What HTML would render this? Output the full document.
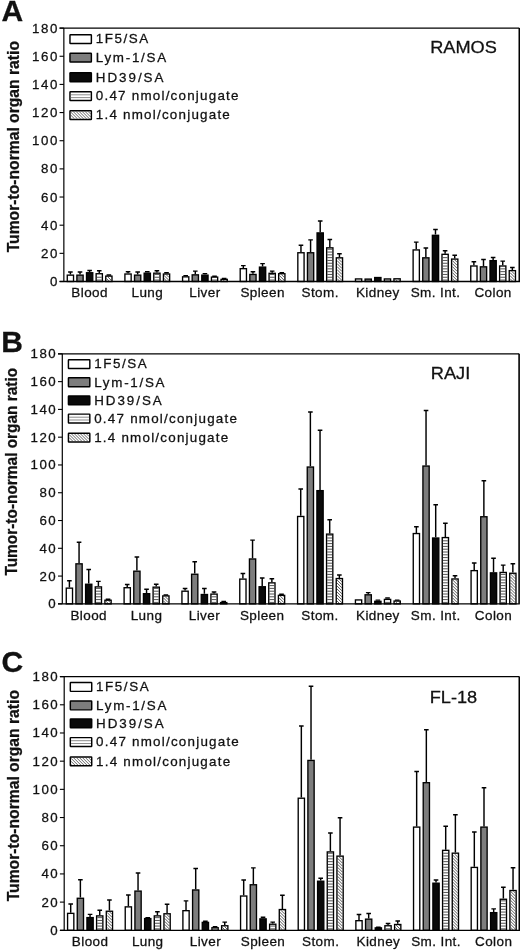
<!DOCTYPE html>
<html lang="en"><head><meta charset="utf-8"><title>Tumor-to-normal organ ratio</title>
<style>html,body{margin:0;padding:0;background:#fff}body{width:520px;height:950px;overflow:hidden}svg{display:block}text{font-family:"Liberation Sans", Arial, Helvetica, sans-serif;fill:#111;stroke:#111;stroke-width:0.28px}</style>
</head><body>
<svg width="520" height="950" viewBox="0 0 520 950">
<rect width="520" height="950" fill="#fff"/>
<g id="panel-A">
<text x="1.5" y="21.3" font-size="30" font-weight="bold">A</text>
<text transform="translate(19.1 146.7) rotate(-90)" text-anchor="middle" font-size="16" font-weight="bold" textLength="211.3" lengthAdjust="spacingAndGlyphs">Tumor-to-normal organ ratio</text>
<line x1="59.55" y1="281.50" x2="63.85" y2="281.50" stroke="#000" stroke-width="1.1"/>
<text x="58.8" y="285.9" text-anchor="end" font-size="13.3" letter-spacing="1.5">0</text>
<line x1="59.55" y1="253.34" x2="63.85" y2="253.34" stroke="#000" stroke-width="1.1"/>
<text x="58.8" y="257.8" text-anchor="end" font-size="13.3" letter-spacing="1.5">20</text>
<line x1="59.55" y1="225.19" x2="63.85" y2="225.19" stroke="#000" stroke-width="1.1"/>
<text x="58.8" y="229.6" text-anchor="end" font-size="13.3" letter-spacing="1.5">40</text>
<line x1="59.55" y1="197.03" x2="63.85" y2="197.03" stroke="#000" stroke-width="1.1"/>
<text x="58.8" y="201.5" text-anchor="end" font-size="13.3" letter-spacing="1.5">60</text>
<line x1="59.55" y1="168.88" x2="63.85" y2="168.88" stroke="#000" stroke-width="1.1"/>
<text x="58.8" y="173.3" text-anchor="end" font-size="13.3" letter-spacing="1.5">80</text>
<line x1="59.55" y1="140.72" x2="63.85" y2="140.72" stroke="#000" stroke-width="1.1"/>
<text x="58.8" y="145.2" text-anchor="end" font-size="13.3" letter-spacing="1.5">100</text>
<line x1="59.55" y1="112.57" x2="63.85" y2="112.57" stroke="#000" stroke-width="1.1"/>
<text x="58.8" y="117.0" text-anchor="end" font-size="13.3" letter-spacing="1.5">120</text>
<line x1="59.55" y1="84.41" x2="63.85" y2="84.41" stroke="#000" stroke-width="1.1"/>
<text x="58.8" y="88.9" text-anchor="end" font-size="13.3" letter-spacing="1.5">140</text>
<line x1="59.55" y1="56.26" x2="63.85" y2="56.26" stroke="#000" stroke-width="1.1"/>
<text x="58.8" y="60.7" text-anchor="end" font-size="13.3" letter-spacing="1.5">160</text>
<line x1="59.55" y1="28.10" x2="63.85" y2="28.10" stroke="#000" stroke-width="1.1"/>
<text x="58.8" y="32.5" text-anchor="end" font-size="13.3" letter-spacing="1.5">180</text>
<path d="M70.40 274.46V271.79M68.10 272.09H72.70" stroke="#000" stroke-width="1.45" fill="none"/>
<rect x="67.27" y="275.14" width="6.25" height="6.36" fill="#fff" stroke="#000" stroke-width="1.35"/>
<path d="M80.02 274.46V271.79M77.72 272.09H82.32" stroke="#000" stroke-width="1.45" fill="none"/>
<rect x="76.89" y="275.14" width="6.25" height="6.36" fill="#7d7d7d" stroke="#000" stroke-width="1.35"/>
<path d="M89.64 272.07V270.10M87.34 270.40H91.94" stroke="#000" stroke-width="1.45" fill="none"/>
<rect x="86.51" y="272.74" width="6.25" height="8.76" fill="#0a0a0a" stroke="#000" stroke-width="1.35"/>
<path d="M99.26 273.05V270.52M96.96 270.82H101.56" stroke="#000" stroke-width="1.45" fill="none"/>
<rect x="96.13" y="273.73" width="6.25" height="7.77" fill="#fff" stroke="#000" stroke-width="1.35"/>
<path d="M96.81 280.05H101.71M96.81 277.25H101.71" stroke="#333" stroke-width="0.85" fill="none"/>
<path d="M108.88 275.45V274.60M106.58 274.90H111.18" stroke="#000" stroke-width="1.45" fill="none"/>
<rect x="105.75" y="276.12" width="6.25" height="5.38" fill="#fff" stroke="#000" stroke-width="1.35"/>
<path d="M110.73 276.80L111.33 277.40M107.73 276.80L111.33 280.40M106.43 278.50L108.83 280.90" stroke="#222" stroke-width="0.75" fill="none"/>
<text x="89.6" y="297.1" text-anchor="middle" font-size="13.5" letter-spacing="0.4">Blood</text>
<path d="M128.04 273.33V271.36M125.74 271.66H130.34" stroke="#000" stroke-width="1.45" fill="none"/>
<rect x="124.91" y="274.01" width="6.25" height="7.49" fill="#fff" stroke="#000" stroke-width="1.35"/>
<path d="M137.66 274.46V271.79M135.36 272.09H139.96" stroke="#000" stroke-width="1.45" fill="none"/>
<rect x="134.53" y="275.14" width="6.25" height="6.36" fill="#7d7d7d" stroke="#000" stroke-width="1.35"/>
<path d="M147.28 272.49V271.36M144.98 271.66H149.58" stroke="#000" stroke-width="1.45" fill="none"/>
<rect x="144.16" y="273.17" width="6.25" height="8.33" fill="#0a0a0a" stroke="#000" stroke-width="1.35"/>
<path d="M156.90 272.49V270.52M154.60 270.82H159.20" stroke="#000" stroke-width="1.45" fill="none"/>
<rect x="153.78" y="273.17" width="6.25" height="8.33" fill="#fff" stroke="#000" stroke-width="1.35"/>
<path d="M154.45 280.05H159.35M154.45 277.25H159.35M154.45 274.45H159.35" stroke="#333" stroke-width="0.85" fill="none"/>
<path d="M166.52 273.33V272.49M164.22 272.79H168.82" stroke="#000" stroke-width="1.45" fill="none"/>
<rect x="163.40" y="274.01" width="6.25" height="7.49" fill="#fff" stroke="#000" stroke-width="1.35"/>
<path d="M166.25 274.68L168.97 277.40M164.07 275.50L168.97 280.40M164.07 278.50L166.47 280.90" stroke="#222" stroke-width="0.75" fill="none"/>
<text x="147.3" y="297.1" text-anchor="middle" font-size="13.5" letter-spacing="0.4">Lung</text>
<path d="M185.68 276.15V275.31M183.38 275.61H187.98" stroke="#000" stroke-width="1.45" fill="none"/>
<rect x="182.56" y="276.83" width="6.25" height="4.67" fill="#fff" stroke="#000" stroke-width="1.35"/>
<path d="M195.30 274.18V270.80M193.00 271.10H197.60" stroke="#000" stroke-width="1.45" fill="none"/>
<rect x="192.18" y="274.85" width="6.25" height="6.65" fill="#7d7d7d" stroke="#000" stroke-width="1.35"/>
<path d="M204.92 274.46V273.33M202.62 273.63H207.22" stroke="#000" stroke-width="1.45" fill="none"/>
<rect x="201.80" y="275.14" width="6.25" height="6.36" fill="#0a0a0a" stroke="#000" stroke-width="1.35"/>
<path d="M214.54 276.43V276.01M212.24 276.31H216.84" stroke="#000" stroke-width="1.45" fill="none"/>
<rect x="211.42" y="277.11" width="6.25" height="4.39" fill="#fff" stroke="#000" stroke-width="1.35"/>
<path d="M212.09 280.05H216.99" stroke="#333" stroke-width="0.85" fill="none"/>
<path d="M224.16 278.68V278.26M221.86 278.56H226.46" stroke="#000" stroke-width="1.45" fill="none"/>
<rect x="221.03" y="279.36" width="6.25" height="2.14" fill="#fff" stroke="#000" stroke-width="1.35"/>
<path d="M226.24 280.03L226.61 280.40M223.24 280.03L224.11 280.90" stroke="#222" stroke-width="0.75" fill="none"/>
<text x="204.9" y="297.1" text-anchor="middle" font-size="13.5" letter-spacing="0.4">Liver</text>
<path d="M243.32 267.99V265.31M241.02 265.61H245.62" stroke="#000" stroke-width="1.45" fill="none"/>
<rect x="240.20" y="268.66" width="6.25" height="12.84" fill="#fff" stroke="#000" stroke-width="1.35"/>
<path d="M252.94 273.76V271.50M250.64 271.80H255.24" stroke="#000" stroke-width="1.45" fill="none"/>
<rect x="249.82" y="274.43" width="6.25" height="7.07" fill="#7d7d7d" stroke="#000" stroke-width="1.35"/>
<path d="M262.56 266.44V263.34M260.26 263.64H264.86" stroke="#000" stroke-width="1.45" fill="none"/>
<rect x="259.44" y="267.11" width="6.25" height="14.39" fill="#0a0a0a" stroke="#000" stroke-width="1.35"/>
<path d="M272.18 272.63V270.80M269.88 271.10H274.48" stroke="#000" stroke-width="1.45" fill="none"/>
<rect x="269.06" y="273.31" width="6.25" height="8.19" fill="#fff" stroke="#000" stroke-width="1.35"/>
<path d="M269.73 280.05H274.63M269.73 277.25H274.63M269.73 274.45H274.63" stroke="#333" stroke-width="0.85" fill="none"/>
<path d="M281.80 273.05V272.35M279.50 272.65H284.10" stroke="#000" stroke-width="1.45" fill="none"/>
<rect x="278.68" y="273.73" width="6.25" height="7.77" fill="#fff" stroke="#000" stroke-width="1.35"/>
<path d="M281.25 274.40L284.25 277.40M279.35 275.50L284.25 280.40M279.35 278.50L281.75 280.90" stroke="#222" stroke-width="0.75" fill="none"/>
<text x="262.6" y="297.1" text-anchor="middle" font-size="13.5" letter-spacing="0.4">Spleen</text>
<path d="M300.96 252.08V244.90M298.66 245.20H303.26" stroke="#000" stroke-width="1.45" fill="none"/>
<rect x="297.83" y="252.75" width="6.25" height="28.75" fill="#fff" stroke="#000" stroke-width="1.35"/>
<path d="M310.58 252.08V239.55M308.28 239.85H312.88" stroke="#000" stroke-width="1.45" fill="none"/>
<rect x="307.45" y="252.75" width="6.25" height="28.75" fill="#7d7d7d" stroke="#000" stroke-width="1.35"/>
<path d="M320.20 232.23V220.68M317.90 220.98H322.50" stroke="#000" stroke-width="1.45" fill="none"/>
<rect x="317.07" y="232.90" width="6.25" height="48.60" fill="#0a0a0a" stroke="#000" stroke-width="1.35"/>
<path d="M329.82 247.15V239.27M327.52 239.57H332.12" stroke="#000" stroke-width="1.45" fill="none"/>
<rect x="326.69" y="247.83" width="6.25" height="33.67" fill="#fff" stroke="#000" stroke-width="1.35"/>
<path d="M327.37 280.05H332.27M327.37 277.25H332.27M327.37 274.45H332.27M327.37 271.65H332.27M327.37 268.85H332.27M327.37 266.05H332.27M327.37 263.25H332.27M327.37 260.45H332.27M327.37 257.65H332.27M327.37 254.85H332.27M327.37 252.05H332.27M327.37 249.25H332.27" stroke="#333" stroke-width="0.85" fill="none"/>
<path d="M339.44 257.15V253.49M337.14 253.79H341.74" stroke="#000" stroke-width="1.45" fill="none"/>
<rect x="336.31" y="257.82" width="6.25" height="23.68" fill="#fff" stroke="#000" stroke-width="1.35"/>
<path d="M340.99 258.50L341.89 259.40M337.99 258.50L341.89 262.40M336.99 260.50L341.89 265.40M336.99 263.50L341.89 268.40M336.99 266.50L341.89 271.40M336.99 269.50L341.89 274.40M336.99 272.50L341.89 277.40M336.99 275.50L341.89 280.40M336.99 278.50L339.39 280.90" stroke="#222" stroke-width="0.75" fill="none"/>
<text x="320.2" y="297.1" text-anchor="middle" font-size="13.5" letter-spacing="0.4">Stom.</text>
<rect x="355.47" y="278.94" width="6.25" height="2.56" fill="#fff" stroke="#000" stroke-width="1.35"/>
<rect x="365.09" y="279.08" width="6.25" height="2.42" fill="#7d7d7d" stroke="#000" stroke-width="1.35"/>
<rect x="374.71" y="277.53" width="6.25" height="3.97" fill="#0a0a0a" stroke="#000" stroke-width="1.35"/>
<rect x="384.33" y="278.94" width="6.25" height="2.56" fill="#fff" stroke="#000" stroke-width="1.35"/>
<path d="M385.01 280.05H389.91" stroke="#333" stroke-width="0.85" fill="none"/>
<rect x="393.95" y="278.80" width="6.25" height="2.70" fill="#fff" stroke="#000" stroke-width="1.35"/>
<path d="M398.60 279.47L399.53 280.40M395.60 279.47L397.03 280.90" stroke="#222" stroke-width="0.75" fill="none"/>
<text x="377.8" y="297.1" text-anchor="middle" font-size="13.5" letter-spacing="0.4">Kidney</text>
<path d="M416.24 249.26V241.80M413.94 242.10H418.54" stroke="#000" stroke-width="1.45" fill="none"/>
<rect x="413.12" y="249.94" width="6.25" height="31.56" fill="#fff" stroke="#000" stroke-width="1.35"/>
<path d="M425.86 257.15V247.71M423.56 248.01H428.16" stroke="#000" stroke-width="1.45" fill="none"/>
<rect x="422.74" y="257.82" width="6.25" height="23.68" fill="#7d7d7d" stroke="#000" stroke-width="1.35"/>
<path d="M435.48 234.62V229.27M433.18 229.57H437.78" stroke="#000" stroke-width="1.45" fill="none"/>
<rect x="432.36" y="235.30" width="6.25" height="46.20" fill="#0a0a0a" stroke="#000" stroke-width="1.35"/>
<path d="M445.10 253.63V250.53M442.80 250.83H447.40" stroke="#000" stroke-width="1.45" fill="none"/>
<rect x="441.98" y="254.30" width="6.25" height="27.20" fill="#fff" stroke="#000" stroke-width="1.35"/>
<path d="M442.65 280.05H447.55M442.65 277.25H447.55M442.65 274.45H447.55M442.65 271.65H447.55M442.65 268.85H447.55M442.65 266.05H447.55M442.65 263.25H447.55M442.65 260.45H447.55M442.65 257.65H447.55" stroke="#333" stroke-width="0.85" fill="none"/>
<path d="M454.72 258.41V254.89M452.42 255.19H457.02" stroke="#000" stroke-width="1.45" fill="none"/>
<rect x="451.60" y="259.09" width="6.25" height="22.41" fill="#fff" stroke="#000" stroke-width="1.35"/>
<path d="M454.53 259.76L457.17 262.40M452.27 260.50L457.17 265.40M452.27 263.50L457.17 268.40M452.27 266.50L457.17 271.40M452.27 269.50L457.17 274.40M452.27 272.50L457.17 277.40M452.27 275.50L457.17 280.40M452.27 278.50L454.67 280.90" stroke="#222" stroke-width="0.75" fill="none"/>
<text x="435.5" y="297.1" text-anchor="middle" font-size="13.5" letter-spacing="0.4">Sm. Int.</text>
<path d="M473.88 265.31V261.51M471.58 261.81H476.18" stroke="#000" stroke-width="1.45" fill="none"/>
<rect x="470.76" y="265.99" width="6.25" height="15.51" fill="#fff" stroke="#000" stroke-width="1.35"/>
<path d="M483.50 266.16V259.26M481.20 259.56H485.80" stroke="#000" stroke-width="1.45" fill="none"/>
<rect x="480.38" y="266.83" width="6.25" height="14.67" fill="#7d7d7d" stroke="#000" stroke-width="1.35"/>
<path d="M493.12 259.96V257.15M490.82 257.45H495.42" stroke="#000" stroke-width="1.45" fill="none"/>
<rect x="490.00" y="260.64" width="6.25" height="20.86" fill="#0a0a0a" stroke="#000" stroke-width="1.35"/>
<path d="M502.74 265.31V260.81M500.44 261.11H505.04" stroke="#000" stroke-width="1.45" fill="none"/>
<rect x="499.62" y="265.99" width="6.25" height="15.51" fill="#fff" stroke="#000" stroke-width="1.35"/>
<path d="M500.29 280.05H505.19M500.29 277.25H505.19M500.29 274.45H505.19M500.29 271.65H505.19M500.29 268.85H505.19" stroke="#333" stroke-width="0.85" fill="none"/>
<path d="M512.36 269.96V267.28M510.06 267.58H514.66" stroke="#000" stroke-width="1.45" fill="none"/>
<rect x="509.24" y="270.63" width="6.25" height="10.87" fill="#fff" stroke="#000" stroke-width="1.35"/>
<path d="M511.72 271.31L514.81 274.40M509.91 272.50L514.81 277.40M509.91 275.50L514.81 280.40M509.91 278.50L512.31 280.90" stroke="#222" stroke-width="0.75" fill="none"/>
<text x="493.1" y="297.1" text-anchor="middle" font-size="13.5" letter-spacing="0.4">Colon</text>
<path d="M59.55 28.10H519.30" stroke="#000" stroke-width="1.1" fill="none"/>
<path d="M63.85 28.10V281.50" stroke="#000" stroke-width="1.2" fill="none"/>
<path d="M59.55 281.50H520.00" stroke="#000" stroke-width="1.3" fill="none"/>
<path d="M519.30 28.10V281.50" stroke="#000" stroke-width="1.6" fill="none"/>
<rect x="69.97" y="34.72" width="21.4" height="8.85" rx="0.5" fill="#fff" stroke="#000" stroke-width="1.45"/>
<text x="95.8" y="43.4" font-size="13.4" textLength="52.5" lengthAdjust="spacing">1F5/SA</text>
<rect x="69.97" y="53.22" width="21.4" height="8.85" rx="0.5" fill="#7d7d7d" stroke="#000" stroke-width="1.45"/>
<text x="95.8" y="61.9" font-size="13.4" textLength="70.3" lengthAdjust="spacing">Lym-1/SA</text>
<rect x="69.97" y="72.82" width="21.4" height="8.85" rx="0.5" fill="#0a0a0a" stroke="#000" stroke-width="1.45"/>
<text x="95.8" y="81.5" font-size="13.4" textLength="67.6" lengthAdjust="spacing">HD39/SA</text>
<rect x="69.97" y="91.72" width="21.4" height="8.85" rx="0.5" fill="#fff" stroke="#000" stroke-width="1.45"/>
<path d="M70.70 97.60H90.65M70.70 94.80H90.65" stroke="#777" stroke-width="0.85" fill="none"/>
<text x="95.8" y="100.4" font-size="13.4" textLength="142.7" lengthAdjust="spacing">0.47 nmol/conjugate</text>
<rect x="69.97" y="110.72" width="21.4" height="8.85" rx="0.5" fill="#fff" stroke="#000" stroke-width="1.45"/>
<path d="M88.10 111.45L90.65 114.00M85.10 111.45L90.65 117.00M82.10 111.45L89.50 118.85M79.10 111.45L86.50 118.85M76.10 111.45L83.50 118.85M73.10 111.45L80.50 118.85M70.70 112.05L77.50 118.85M70.70 115.05L74.50 118.85M70.70 118.05L71.50 118.85" stroke="#222" stroke-width="0.7" fill="none"/>
<text x="95.8" y="119.4" font-size="13.4" textLength="134.0" lengthAdjust="spacing">1.4 nmol/conjugate</text>
<text x="430.2" y="53.4" font-size="17" textLength="66.6" lengthAdjust="spacingAndGlyphs">RAMOS</text>
</g>
<g id="panel-B">
<text x="1.3" y="351.6" font-size="30" font-weight="bold">B</text>
<text transform="translate(16.9 471.7) rotate(-90)" text-anchor="middle" font-size="16" font-weight="bold" textLength="207.8" lengthAdjust="spacingAndGlyphs">Tumor-to-normal organ ratio</text>
<line x1="58.00" y1="603.85" x2="62.30" y2="603.85" stroke="#000" stroke-width="1.1"/>
<text x="57.2" y="608.3" text-anchor="end" font-size="13.3" letter-spacing="1.5">0</text>
<line x1="58.00" y1="576.07" x2="62.30" y2="576.07" stroke="#000" stroke-width="1.1"/>
<text x="57.2" y="580.5" text-anchor="end" font-size="13.3" letter-spacing="1.5">20</text>
<line x1="58.00" y1="548.29" x2="62.30" y2="548.29" stroke="#000" stroke-width="1.1"/>
<text x="57.2" y="552.7" text-anchor="end" font-size="13.3" letter-spacing="1.5">40</text>
<line x1="58.00" y1="520.52" x2="62.30" y2="520.52" stroke="#000" stroke-width="1.1"/>
<text x="57.2" y="525.0" text-anchor="end" font-size="13.3" letter-spacing="1.5">60</text>
<line x1="58.00" y1="492.74" x2="62.30" y2="492.74" stroke="#000" stroke-width="1.1"/>
<text x="57.2" y="497.2" text-anchor="end" font-size="13.3" letter-spacing="1.5">80</text>
<line x1="58.00" y1="464.96" x2="62.30" y2="464.96" stroke="#000" stroke-width="1.1"/>
<text x="57.2" y="469.4" text-anchor="end" font-size="13.3" letter-spacing="1.5">100</text>
<line x1="58.00" y1="437.18" x2="62.30" y2="437.18" stroke="#000" stroke-width="1.1"/>
<text x="57.2" y="441.6" text-anchor="end" font-size="13.3" letter-spacing="1.5">120</text>
<line x1="58.00" y1="409.41" x2="62.30" y2="409.41" stroke="#000" stroke-width="1.1"/>
<text x="57.2" y="413.9" text-anchor="end" font-size="13.3" letter-spacing="1.5">140</text>
<line x1="58.00" y1="381.63" x2="62.30" y2="381.63" stroke="#000" stroke-width="1.1"/>
<text x="57.2" y="386.1" text-anchor="end" font-size="13.3" letter-spacing="1.5">160</text>
<line x1="58.00" y1="353.85" x2="62.30" y2="353.85" stroke="#000" stroke-width="1.1"/>
<text x="57.2" y="358.3" text-anchor="end" font-size="13.3" letter-spacing="1.5">180</text>
<path d="M69.40 587.46V580.52M67.10 580.82H71.70" stroke="#000" stroke-width="1.45" fill="none"/>
<rect x="66.27" y="588.14" width="6.25" height="15.71" fill="#fff" stroke="#000" stroke-width="1.35"/>
<path d="M79.06 563.16V541.91M76.76 542.21H81.36" stroke="#000" stroke-width="1.45" fill="none"/>
<rect x="75.93" y="563.83" width="6.25" height="40.02" fill="#7d7d7d" stroke="#000" stroke-width="1.35"/>
<path d="M88.72 583.57V569.27M86.42 569.57H91.02" stroke="#000" stroke-width="1.45" fill="none"/>
<rect x="85.59" y="584.25" width="6.25" height="19.60" fill="#0a0a0a" stroke="#000" stroke-width="1.35"/>
<path d="M98.38 586.21V581.07M96.08 581.37H100.68" stroke="#000" stroke-width="1.45" fill="none"/>
<rect x="95.25" y="586.89" width="6.25" height="16.96" fill="#fff" stroke="#000" stroke-width="1.35"/>
<path d="M95.93 602.40H100.83M95.93 599.60H100.83M95.93 596.80H100.83M95.93 594.00H100.83M95.93 591.20H100.83M95.93 588.40H100.83" stroke="#333" stroke-width="0.85" fill="none"/>
<path d="M108.04 599.54V598.99M105.74 599.29H110.34" stroke="#000" stroke-width="1.45" fill="none"/>
<rect x="104.91" y="600.22" width="6.25" height="3.63" fill="#fff" stroke="#000" stroke-width="1.35"/>
<path d="M108.63 600.89L110.49 602.75M105.63 600.89L107.99 603.25" stroke="#222" stroke-width="0.75" fill="none"/>
<text x="88.7" y="619.5" text-anchor="middle" font-size="13.5" letter-spacing="0.4">Blood</text>
<path d="M127.23 587.04V584.27M124.93 584.57H129.53" stroke="#000" stroke-width="1.45" fill="none"/>
<rect x="124.10" y="587.72" width="6.25" height="16.13" fill="#fff" stroke="#000" stroke-width="1.35"/>
<path d="M136.89 570.52V556.77M134.59 557.07H139.19" stroke="#000" stroke-width="1.45" fill="none"/>
<rect x="133.77" y="571.19" width="6.25" height="32.66" fill="#7d7d7d" stroke="#000" stroke-width="1.35"/>
<path d="M146.55 593.02V588.85M144.25 589.15H148.85" stroke="#000" stroke-width="1.45" fill="none"/>
<rect x="143.43" y="593.69" width="6.25" height="10.16" fill="#0a0a0a" stroke="#000" stroke-width="1.35"/>
<path d="M156.21 586.49V583.99M153.91 584.29H158.51" stroke="#000" stroke-width="1.45" fill="none"/>
<rect x="153.09" y="587.16" width="6.25" height="16.69" fill="#fff" stroke="#000" stroke-width="1.35"/>
<path d="M153.76 602.40H158.66M153.76 599.60H158.66M153.76 596.80H158.66M153.76 594.00H158.66M153.76 591.20H158.66M153.76 588.40H158.66" stroke="#333" stroke-width="0.85" fill="none"/>
<path d="M165.87 595.24V594.68M163.57 594.98H168.17" stroke="#000" stroke-width="1.45" fill="none"/>
<rect x="162.75" y="595.91" width="6.25" height="7.94" fill="#fff" stroke="#000" stroke-width="1.35"/>
<path d="M168.16 596.59L168.32 596.75M165.16 596.59L168.32 599.75M163.42 597.85L168.32 602.75M163.42 600.85L165.82 603.25" stroke="#222" stroke-width="0.75" fill="none"/>
<text x="146.5" y="619.5" text-anchor="middle" font-size="13.5" letter-spacing="0.4">Lung</text>
<path d="M185.06 590.52V588.29M182.76 588.59H187.36" stroke="#000" stroke-width="1.45" fill="none"/>
<rect x="181.94" y="591.19" width="6.25" height="12.66" fill="#fff" stroke="#000" stroke-width="1.35"/>
<path d="M194.72 573.57V561.49M192.42 561.79H197.02" stroke="#000" stroke-width="1.45" fill="none"/>
<rect x="191.59" y="574.25" width="6.25" height="29.60" fill="#7d7d7d" stroke="#000" stroke-width="1.35"/>
<path d="M204.38 593.85V588.29M202.08 588.59H206.68" stroke="#000" stroke-width="1.45" fill="none"/>
<rect x="201.25" y="594.52" width="6.25" height="9.32" fill="#0a0a0a" stroke="#000" stroke-width="1.35"/>
<path d="M214.04 593.43V591.77M211.74 592.07H216.34" stroke="#000" stroke-width="1.45" fill="none"/>
<rect x="210.91" y="594.11" width="6.25" height="9.74" fill="#fff" stroke="#000" stroke-width="1.35"/>
<path d="M211.59 602.40H216.49M211.59 599.60H216.49M211.59 596.80H216.49" stroke="#333" stroke-width="0.85" fill="none"/>
<path d="M223.70 601.91V601.07M221.40 601.37H226.00" stroke="#000" stroke-width="1.45" fill="none"/>
<rect x="220.57" y="602.58" width="6.25" height="1.27" fill="#fff" stroke="#000" stroke-width="1.35"/>
<text x="204.4" y="619.5" text-anchor="middle" font-size="13.5" letter-spacing="0.4">Liver</text>
<path d="M242.89 578.43V573.29M240.59 573.59H245.19" stroke="#000" stroke-width="1.45" fill="none"/>
<rect x="239.77" y="579.11" width="6.25" height="24.74" fill="#fff" stroke="#000" stroke-width="1.35"/>
<path d="M252.55 558.29V539.82M250.25 540.12H254.85" stroke="#000" stroke-width="1.45" fill="none"/>
<rect x="249.43" y="558.97" width="6.25" height="44.88" fill="#7d7d7d" stroke="#000" stroke-width="1.35"/>
<path d="M262.21 586.07V577.60M259.91 577.90H264.51" stroke="#000" stroke-width="1.45" fill="none"/>
<rect x="259.09" y="586.75" width="6.25" height="17.10" fill="#0a0a0a" stroke="#000" stroke-width="1.35"/>
<path d="M271.87 582.18V578.43M269.57 578.73H274.17" stroke="#000" stroke-width="1.45" fill="none"/>
<rect x="268.75" y="582.86" width="6.25" height="20.99" fill="#fff" stroke="#000" stroke-width="1.35"/>
<path d="M269.42 602.40H274.32M269.42 599.60H274.32M269.42 596.80H274.32M269.42 594.00H274.32M269.42 591.20H274.32M269.42 588.40H274.32M269.42 585.60H274.32" stroke="#333" stroke-width="0.85" fill="none"/>
<path d="M281.53 594.68V593.99M279.23 594.29H283.83" stroke="#000" stroke-width="1.45" fill="none"/>
<rect x="278.41" y="595.36" width="6.25" height="8.49" fill="#fff" stroke="#000" stroke-width="1.35"/>
<path d="M283.26 596.03L283.98 596.75M280.26 596.03L283.98 599.75M279.08 597.85L283.98 602.75M279.08 600.85L281.48 603.25" stroke="#222" stroke-width="0.75" fill="none"/>
<text x="262.2" y="619.5" text-anchor="middle" font-size="13.5" letter-spacing="0.4">Spleen</text>
<path d="M300.72 515.79V488.71M298.42 489.01H303.02" stroke="#000" stroke-width="1.45" fill="none"/>
<rect x="297.59" y="516.47" width="6.25" height="87.38" fill="#fff" stroke="#000" stroke-width="1.35"/>
<path d="M310.38 466.35V411.77M308.08 412.07H312.68" stroke="#000" stroke-width="1.45" fill="none"/>
<rect x="307.25" y="467.03" width="6.25" height="136.82" fill="#7d7d7d" stroke="#000" stroke-width="1.35"/>
<path d="M320.04 489.96V429.96M317.74 430.26H322.34" stroke="#000" stroke-width="1.45" fill="none"/>
<rect x="316.91" y="490.64" width="6.25" height="113.21" fill="#0a0a0a" stroke="#000" stroke-width="1.35"/>
<path d="M329.70 533.43V519.54M327.40 519.84H332.00" stroke="#000" stroke-width="1.45" fill="none"/>
<rect x="326.57" y="534.11" width="6.25" height="69.74" fill="#fff" stroke="#000" stroke-width="1.35"/>
<path d="M327.25 602.40H332.15M327.25 599.60H332.15M327.25 596.80H332.15M327.25 594.00H332.15M327.25 591.20H332.15M327.25 588.40H332.15M327.25 585.60H332.15M327.25 582.80H332.15M327.25 580.00H332.15M327.25 577.20H332.15M327.25 574.40H332.15M327.25 571.60H332.15M327.25 568.80H332.15M327.25 566.00H332.15M327.25 563.20H332.15M327.25 560.40H332.15M327.25 557.60H332.15M327.25 554.80H332.15M327.25 552.00H332.15M327.25 549.20H332.15M327.25 546.40H332.15M327.25 543.60H332.15M327.25 540.80H332.15M327.25 538.00H332.15M327.25 535.20H332.15" stroke="#333" stroke-width="0.85" fill="none"/>
<path d="M339.36 577.88V574.68M337.06 574.98H341.66" stroke="#000" stroke-width="1.45" fill="none"/>
<rect x="336.23" y="578.55" width="6.25" height="25.30" fill="#fff" stroke="#000" stroke-width="1.35"/>
<path d="M339.29 579.23L341.81 581.75M336.91 579.85L341.81 584.75M336.91 582.85L341.81 587.75M336.91 585.85L341.81 590.75M336.91 588.85L341.81 593.75M336.91 591.85L341.81 596.75M336.91 594.85L341.81 599.75M336.91 597.85L341.81 602.75M336.91 600.85L339.31 603.25" stroke="#222" stroke-width="0.75" fill="none"/>
<text x="320.0" y="619.5" text-anchor="middle" font-size="13.5" letter-spacing="0.4">Stom.</text>
<rect x="355.43" y="599.94" width="6.25" height="3.91" fill="#fff" stroke="#000" stroke-width="1.35"/>
<path d="M368.21 594.13V592.32M365.91 592.62H370.51" stroke="#000" stroke-width="1.45" fill="none"/>
<rect x="365.09" y="594.80" width="6.25" height="9.05" fill="#7d7d7d" stroke="#000" stroke-width="1.35"/>
<path d="M377.87 600.66V599.82M375.57 600.12H380.17" stroke="#000" stroke-width="1.45" fill="none"/>
<rect x="374.75" y="601.33" width="6.25" height="2.52" fill="#0a0a0a" stroke="#000" stroke-width="1.35"/>
<path d="M387.53 598.71V597.60M385.23 597.90H389.83" stroke="#000" stroke-width="1.45" fill="none"/>
<rect x="384.41" y="599.39" width="6.25" height="4.46" fill="#fff" stroke="#000" stroke-width="1.35"/>
<path d="M385.08 602.40H389.98" stroke="#333" stroke-width="0.85" fill="none"/>
<path d="M397.19 600.38V599.82M394.89 600.12H399.49" stroke="#000" stroke-width="1.45" fill="none"/>
<rect x="394.06" y="601.05" width="6.25" height="2.80" fill="#fff" stroke="#000" stroke-width="1.35"/>
<path d="M398.62 601.73L399.64 602.75M395.62 601.73L397.14 603.25" stroke="#222" stroke-width="0.75" fill="none"/>
<text x="377.9" y="619.5" text-anchor="middle" font-size="13.5" letter-spacing="0.4">Kidney</text>
<path d="M416.38 532.88V526.49M414.08 526.79H418.68" stroke="#000" stroke-width="1.45" fill="none"/>
<rect x="413.26" y="533.55" width="6.25" height="70.30" fill="#fff" stroke="#000" stroke-width="1.35"/>
<path d="M426.04 465.38V410.10M423.74 410.40H428.34" stroke="#000" stroke-width="1.45" fill="none"/>
<rect x="422.92" y="466.05" width="6.25" height="137.80" fill="#7d7d7d" stroke="#000" stroke-width="1.35"/>
<path d="M435.70 537.32V504.41M433.40 504.71H438.00" stroke="#000" stroke-width="1.45" fill="none"/>
<rect x="432.58" y="538.00" width="6.25" height="65.85" fill="#0a0a0a" stroke="#000" stroke-width="1.35"/>
<path d="M445.36 536.91V523.02M443.06 523.32H447.66" stroke="#000" stroke-width="1.45" fill="none"/>
<rect x="442.24" y="537.58" width="6.25" height="66.27" fill="#fff" stroke="#000" stroke-width="1.35"/>
<path d="M442.91 602.40H447.81M442.91 599.60H447.81M442.91 596.80H447.81M442.91 594.00H447.81M442.91 591.20H447.81M442.91 588.40H447.81M442.91 585.60H447.81M442.91 582.80H447.81M442.91 580.00H447.81M442.91 577.20H447.81M442.91 574.40H447.81M442.91 571.60H447.81M442.91 568.80H447.81M442.91 566.00H447.81M442.91 563.20H447.81M442.91 560.40H447.81M442.91 557.60H447.81M442.91 554.80H447.81M442.91 552.00H447.81M442.91 549.20H447.81M442.91 546.40H447.81M442.91 543.60H447.81M442.91 540.80H447.81" stroke="#333" stroke-width="0.85" fill="none"/>
<path d="M455.02 578.29V575.38M452.72 575.68H457.32" stroke="#000" stroke-width="1.45" fill="none"/>
<rect x="451.90" y="578.97" width="6.25" height="24.88" fill="#fff" stroke="#000" stroke-width="1.35"/>
<path d="M455.36 579.64L457.47 581.75M452.57 579.85L457.47 584.75M452.57 582.85L457.47 587.75M452.57 585.85L457.47 590.75M452.57 588.85L457.47 593.75M452.57 591.85L457.47 596.75M452.57 594.85L457.47 599.75M452.57 597.85L457.47 602.75M452.57 600.85L454.97 603.25" stroke="#222" stroke-width="0.75" fill="none"/>
<text x="435.7" y="619.5" text-anchor="middle" font-size="13.5" letter-spacing="0.4">Sm. Int.</text>
<path d="M474.21 569.96V562.60M471.91 562.90H476.51" stroke="#000" stroke-width="1.45" fill="none"/>
<rect x="471.08" y="570.64" width="6.25" height="33.21" fill="#fff" stroke="#000" stroke-width="1.35"/>
<path d="M483.87 516.07V480.38M481.57 480.68H486.17" stroke="#000" stroke-width="1.45" fill="none"/>
<rect x="480.75" y="516.75" width="6.25" height="87.10" fill="#7d7d7d" stroke="#000" stroke-width="1.35"/>
<path d="M493.53 572.18V557.88M491.23 558.18H495.83" stroke="#000" stroke-width="1.45" fill="none"/>
<rect x="490.40" y="572.86" width="6.25" height="30.99" fill="#0a0a0a" stroke="#000" stroke-width="1.35"/>
<path d="M503.19 571.77V564.82M500.89 565.12H505.49" stroke="#000" stroke-width="1.45" fill="none"/>
<rect x="500.06" y="572.44" width="6.25" height="31.41" fill="#fff" stroke="#000" stroke-width="1.35"/>
<path d="M500.74 602.40H505.64M500.74 599.60H505.64M500.74 596.80H505.64M500.74 594.00H505.64M500.74 591.20H505.64M500.74 588.40H505.64M500.74 585.60H505.64M500.74 582.80H505.64M500.74 580.00H505.64M500.74 577.20H505.64M500.74 574.40H505.64" stroke="#333" stroke-width="0.85" fill="none"/>
<path d="M512.85 572.60V563.43M510.55 563.73H515.15" stroke="#000" stroke-width="1.45" fill="none"/>
<rect x="509.72" y="573.27" width="6.25" height="30.57" fill="#fff" stroke="#000" stroke-width="1.35"/>
<path d="M513.50 573.95L515.30 575.75M510.50 573.95L515.30 578.75M510.40 576.85L515.30 581.75M510.40 579.85L515.30 584.75M510.40 582.85L515.30 587.75M510.40 585.85L515.30 590.75M510.40 588.85L515.30 593.75M510.40 591.85L515.30 596.75M510.40 594.85L515.30 599.75M510.40 597.85L515.30 602.75M510.40 600.85L512.80 603.25" stroke="#222" stroke-width="0.75" fill="none"/>
<text x="493.5" y="619.5" text-anchor="middle" font-size="13.5" letter-spacing="0.4">Colon</text>
<path d="M58.00 353.85H519.10" stroke="#000" stroke-width="1.1" fill="none"/>
<path d="M62.30 353.85V603.85" stroke="#000" stroke-width="1.2" fill="none"/>
<path d="M58.00 603.85H519.80" stroke="#000" stroke-width="1.3" fill="none"/>
<path d="M519.10 353.85V603.85" stroke="#000" stroke-width="1.6" fill="none"/>
<rect x="68.42" y="359.72" width="21.4" height="8.85" rx="0.5" fill="#fff" stroke="#000" stroke-width="1.45"/>
<text x="94.2" y="368.4" font-size="13.4" textLength="52.5" lengthAdjust="spacing">1F5/SA</text>
<rect x="68.42" y="377.82" width="21.4" height="8.85" rx="0.5" fill="#7d7d7d" stroke="#000" stroke-width="1.45"/>
<text x="94.2" y="386.5" font-size="13.4" textLength="70.3" lengthAdjust="spacing">Lym-1/SA</text>
<rect x="68.42" y="395.92" width="21.4" height="8.85" rx="0.5" fill="#0a0a0a" stroke="#000" stroke-width="1.45"/>
<text x="94.2" y="404.6" font-size="13.4" textLength="67.6" lengthAdjust="spacing">HD39/SA</text>
<rect x="68.42" y="414.12" width="21.4" height="8.85" rx="0.5" fill="#fff" stroke="#000" stroke-width="1.45"/>
<path d="M69.15 420.00H89.10M69.15 417.20H89.10" stroke="#777" stroke-width="0.85" fill="none"/>
<text x="94.2" y="422.8" font-size="13.4" textLength="142.7" lengthAdjust="spacing">0.47 nmol/conjugate</text>
<rect x="68.42" y="433.22" width="21.4" height="8.85" rx="0.5" fill="#fff" stroke="#000" stroke-width="1.45"/>
<path d="M86.55 433.95L89.10 436.50M83.55 433.95L89.10 439.50M80.55 433.95L87.95 441.35M77.55 433.95L84.95 441.35M74.55 433.95L81.95 441.35M71.55 433.95L78.95 441.35M69.15 434.55L75.95 441.35M69.15 437.55L72.95 441.35M69.15 440.55L69.95 441.35" stroke="#222" stroke-width="0.7" fill="none"/>
<text x="94.2" y="441.9" font-size="13.4" textLength="134.0" lengthAdjust="spacing">1.4 nmol/conjugate</text>
<text x="430.8" y="379.2" font-size="17" textLength="39.5" lengthAdjust="spacingAndGlyphs">RAJI</text>
</g>
<g id="panel-C">
<text x="1.4" y="671.7" font-size="30" font-weight="bold">C</text>
<text transform="translate(19.0 795.7) rotate(-90)" text-anchor="middle" font-size="16" font-weight="bold" textLength="211.3" lengthAdjust="spacingAndGlyphs">Tumor-to-normal organ ratio</text>
<line x1="59.90" y1="930.30" x2="64.20" y2="930.30" stroke="#000" stroke-width="1.1"/>
<text x="59.2" y="934.8" text-anchor="end" font-size="13.3" letter-spacing="1.5">0</text>
<line x1="59.90" y1="902.11" x2="64.20" y2="902.11" stroke="#000" stroke-width="1.1"/>
<text x="59.2" y="906.6" text-anchor="end" font-size="13.3" letter-spacing="1.5">20</text>
<line x1="59.90" y1="873.92" x2="64.20" y2="873.92" stroke="#000" stroke-width="1.1"/>
<text x="59.2" y="878.4" text-anchor="end" font-size="13.3" letter-spacing="1.5">40</text>
<line x1="59.90" y1="845.73" x2="64.20" y2="845.73" stroke="#000" stroke-width="1.1"/>
<text x="59.2" y="850.2" text-anchor="end" font-size="13.3" letter-spacing="1.5">60</text>
<line x1="59.90" y1="817.54" x2="64.20" y2="817.54" stroke="#000" stroke-width="1.1"/>
<text x="59.2" y="822.0" text-anchor="end" font-size="13.3" letter-spacing="1.5">80</text>
<line x1="59.90" y1="789.36" x2="64.20" y2="789.36" stroke="#000" stroke-width="1.1"/>
<text x="59.2" y="793.8" text-anchor="end" font-size="13.3" letter-spacing="1.5">100</text>
<line x1="59.90" y1="761.17" x2="64.20" y2="761.17" stroke="#000" stroke-width="1.1"/>
<text x="59.2" y="765.6" text-anchor="end" font-size="13.3" letter-spacing="1.5">120</text>
<line x1="59.90" y1="732.98" x2="64.20" y2="732.98" stroke="#000" stroke-width="1.1"/>
<text x="59.2" y="737.4" text-anchor="end" font-size="13.3" letter-spacing="1.5">140</text>
<line x1="59.90" y1="704.79" x2="64.20" y2="704.79" stroke="#000" stroke-width="1.1"/>
<text x="59.2" y="709.2" text-anchor="end" font-size="13.3" letter-spacing="1.5">160</text>
<line x1="59.90" y1="676.60" x2="64.20" y2="676.60" stroke="#000" stroke-width="1.1"/>
<text x="59.2" y="681.1" text-anchor="end" font-size="13.3" letter-spacing="1.5">180</text>
<path d="M70.70 912.68V903.66M68.40 903.96H73.00" stroke="#000" stroke-width="1.45" fill="none"/>
<rect x="67.58" y="913.36" width="6.25" height="16.94" fill="#fff" stroke="#000" stroke-width="1.35"/>
<path d="M80.38 897.60V879.42M78.08 879.72H82.68" stroke="#000" stroke-width="1.45" fill="none"/>
<rect x="77.26" y="898.28" width="6.25" height="32.02" fill="#7d7d7d" stroke="#000" stroke-width="1.35"/>
<path d="M90.06 916.91V914.09M87.76 914.39H92.36" stroke="#000" stroke-width="1.45" fill="none"/>
<rect x="86.94" y="917.59" width="6.25" height="12.71" fill="#0a0a0a" stroke="#000" stroke-width="1.35"/>
<path d="M99.74 915.22V910.00M97.44 910.30H102.04" stroke="#000" stroke-width="1.45" fill="none"/>
<rect x="96.61" y="915.89" width="6.25" height="14.41" fill="#fff" stroke="#000" stroke-width="1.35"/>
<path d="M97.29 928.85H102.19M97.29 926.05H102.19M97.29 923.25H102.19M97.29 920.45H102.19M97.29 917.65H102.19" stroke="#333" stroke-width="0.85" fill="none"/>
<path d="M109.42 910.57V899.72M107.12 900.02H111.72" stroke="#000" stroke-width="1.45" fill="none"/>
<rect x="106.30" y="911.24" width="6.25" height="19.06" fill="#fff" stroke="#000" stroke-width="1.35"/>
<path d="M109.59 911.92L111.87 914.20M106.97 912.30L111.87 917.20M106.97 915.30L111.87 920.20M106.97 918.30L111.87 923.20M106.97 921.30L111.87 926.20M106.97 924.30L111.87 929.20M106.97 927.30L109.37 929.70" stroke="#222" stroke-width="0.75" fill="none"/>
<text x="90.1" y="945.9" text-anchor="middle" font-size="13.5" letter-spacing="0.4">Blood</text>
<path d="M128.36 906.20V894.78M126.06 895.08H130.66" stroke="#000" stroke-width="1.45" fill="none"/>
<rect x="125.23" y="906.87" width="6.25" height="23.43" fill="#fff" stroke="#000" stroke-width="1.35"/>
<path d="M138.04 890.41V872.79M135.74 873.09H140.34" stroke="#000" stroke-width="1.45" fill="none"/>
<rect x="134.92" y="891.09" width="6.25" height="39.21" fill="#7d7d7d" stroke="#000" stroke-width="1.35"/>
<path d="M147.72 917.90V917.47M145.42 917.77H150.02" stroke="#000" stroke-width="1.45" fill="none"/>
<rect x="144.60" y="918.57" width="6.25" height="11.73" fill="#0a0a0a" stroke="#000" stroke-width="1.35"/>
<path d="M157.40 915.22V911.41M155.10 911.71H159.70" stroke="#000" stroke-width="1.45" fill="none"/>
<rect x="154.28" y="915.89" width="6.25" height="14.41" fill="#fff" stroke="#000" stroke-width="1.35"/>
<path d="M154.95 928.85H159.85M154.95 926.05H159.85M154.95 923.25H159.85M154.95 920.45H159.85M154.95 917.65H159.85" stroke="#333" stroke-width="0.85" fill="none"/>
<path d="M167.08 913.10V903.94M164.78 904.24H169.38" stroke="#000" stroke-width="1.45" fill="none"/>
<rect x="163.96" y="913.78" width="6.25" height="16.52" fill="#fff" stroke="#000" stroke-width="1.35"/>
<path d="M166.78 914.45L169.53 917.20M164.63 915.30L169.53 920.20M164.63 918.30L169.53 923.20M164.63 921.30L169.53 926.20M164.63 924.30L169.53 929.20M164.63 927.30L167.03 929.70" stroke="#222" stroke-width="0.75" fill="none"/>
<text x="147.7" y="945.9" text-anchor="middle" font-size="13.5" letter-spacing="0.4">Lung</text>
<path d="M186.02 910.00V900.56M183.72 900.86H188.32" stroke="#000" stroke-width="1.45" fill="none"/>
<rect x="182.90" y="910.68" width="6.25" height="19.62" fill="#fff" stroke="#000" stroke-width="1.35"/>
<path d="M195.70 889.29V868.14M193.40 868.44H198.00" stroke="#000" stroke-width="1.45" fill="none"/>
<rect x="192.58" y="889.96" width="6.25" height="40.34" fill="#7d7d7d" stroke="#000" stroke-width="1.35"/>
<path d="M205.38 921.70V921.00M203.08 921.30H207.68" stroke="#000" stroke-width="1.45" fill="none"/>
<rect x="202.25" y="922.38" width="6.25" height="7.92" fill="#0a0a0a" stroke="#000" stroke-width="1.35"/>
<path d="M215.06 927.06V926.49M212.76 926.79H217.36" stroke="#000" stroke-width="1.45" fill="none"/>
<rect x="211.94" y="927.73" width="6.25" height="2.57" fill="#fff" stroke="#000" stroke-width="1.35"/>
<path d="M212.61 928.85H217.51" stroke="#333" stroke-width="0.85" fill="none"/>
<path d="M224.74 925.09V921.84M222.44 922.14H227.04" stroke="#000" stroke-width="1.45" fill="none"/>
<rect x="221.62" y="925.76" width="6.25" height="4.54" fill="#fff" stroke="#000" stroke-width="1.35"/>
<path d="M224.43 926.44L227.19 929.20M222.29 927.30L224.69 929.70" stroke="#222" stroke-width="0.75" fill="none"/>
<text x="205.4" y="945.9" text-anchor="middle" font-size="13.5" letter-spacing="0.4">Liver</text>
<path d="M243.68 895.35V879.70M241.38 880.00H245.98" stroke="#000" stroke-width="1.45" fill="none"/>
<rect x="240.56" y="896.02" width="6.25" height="34.28" fill="#fff" stroke="#000" stroke-width="1.35"/>
<path d="M253.36 884.07V867.58M251.06 867.88H255.66" stroke="#000" stroke-width="1.45" fill="none"/>
<rect x="250.24" y="884.75" width="6.25" height="45.55" fill="#7d7d7d" stroke="#000" stroke-width="1.35"/>
<path d="M263.04 918.18V916.91M260.74 917.21H265.34" stroke="#000" stroke-width="1.45" fill="none"/>
<rect x="259.92" y="918.85" width="6.25" height="11.45" fill="#0a0a0a" stroke="#000" stroke-width="1.35"/>
<path d="M272.72 923.53V921.84M270.42 922.14H275.02" stroke="#000" stroke-width="1.45" fill="none"/>
<rect x="269.60" y="924.21" width="6.25" height="6.09" fill="#fff" stroke="#000" stroke-width="1.35"/>
<path d="M270.27 928.85H275.17M270.27 926.05H275.17" stroke="#333" stroke-width="0.85" fill="none"/>
<path d="M282.40 908.88V894.92M280.10 895.22H284.70" stroke="#000" stroke-width="1.45" fill="none"/>
<rect x="279.28" y="909.55" width="6.25" height="20.75" fill="#fff" stroke="#000" stroke-width="1.35"/>
<path d="M283.88 910.23L284.85 911.20M280.88 910.23L284.85 914.20M279.95 912.30L284.85 917.20M279.95 915.30L284.85 920.20M279.95 918.30L284.85 923.20M279.95 921.30L284.85 926.20M279.95 924.30L284.85 929.20M279.95 927.30L282.35 929.70" stroke="#222" stroke-width="0.75" fill="none"/>
<text x="263.0" y="945.9" text-anchor="middle" font-size="13.5" letter-spacing="0.4">Spleen</text>
<path d="M301.34 797.53V725.65M299.04 725.95H303.64" stroke="#000" stroke-width="1.45" fill="none"/>
<rect x="298.21" y="798.21" width="6.25" height="132.09" fill="#fff" stroke="#000" stroke-width="1.35"/>
<path d="M311.02 759.76V686.04M308.72 686.34H313.32" stroke="#000" stroke-width="1.45" fill="none"/>
<rect x="307.89" y="760.43" width="6.25" height="169.87" fill="#7d7d7d" stroke="#000" stroke-width="1.35"/>
<path d="M320.70 880.55V878.01M318.40 878.31H323.00" stroke="#000" stroke-width="1.45" fill="none"/>
<rect x="317.57" y="881.22" width="6.25" height="49.08" fill="#0a0a0a" stroke="#000" stroke-width="1.35"/>
<path d="M330.38 851.23V832.77M328.08 833.07H332.68" stroke="#000" stroke-width="1.45" fill="none"/>
<rect x="327.25" y="851.91" width="6.25" height="78.39" fill="#fff" stroke="#000" stroke-width="1.35"/>
<path d="M327.93 928.85H332.83M327.93 926.05H332.83M327.93 923.25H332.83M327.93 920.45H332.83M327.93 917.65H332.83M327.93 914.85H332.83M327.93 912.05H332.83M327.93 909.25H332.83M327.93 906.45H332.83M327.93 903.65H332.83M327.93 900.85H332.83M327.93 898.05H332.83M327.93 895.25H332.83M327.93 892.45H332.83M327.93 889.65H332.83M327.93 886.85H332.83M327.93 884.05H332.83M327.93 881.25H332.83M327.93 878.45H332.83M327.93 875.65H332.83M327.93 872.85H332.83M327.93 870.05H332.83M327.93 867.25H332.83M327.93 864.45H332.83M327.93 861.65H332.83M327.93 858.85H332.83M327.93 856.05H332.83M327.93 853.25H332.83" stroke="#333" stroke-width="0.85" fill="none"/>
<path d="M340.06 855.46V817.40M337.76 817.70H342.36" stroke="#000" stroke-width="1.45" fill="none"/>
<rect x="336.94" y="856.13" width="6.25" height="74.17" fill="#fff" stroke="#000" stroke-width="1.35"/>
<path d="M342.12 856.81L342.51 857.20M339.12 856.81L342.51 860.20M337.61 858.30L342.51 863.20M337.61 861.30L342.51 866.20M337.61 864.30L342.51 869.20M337.61 867.30L342.51 872.20M337.61 870.30L342.51 875.20M337.61 873.30L342.51 878.20M337.61 876.30L342.51 881.20M337.61 879.30L342.51 884.20M337.61 882.30L342.51 887.20M337.61 885.30L342.51 890.20M337.61 888.30L342.51 893.20M337.61 891.30L342.51 896.20M337.61 894.30L342.51 899.20M337.61 897.30L342.51 902.20M337.61 900.30L342.51 905.20M337.61 903.30L342.51 908.20M337.61 906.30L342.51 911.20M337.61 909.30L342.51 914.20M337.61 912.30L342.51 917.20M337.61 915.30L342.51 920.20M337.61 918.30L342.51 923.20M337.61 921.30L342.51 926.20M337.61 924.30L342.51 929.20M337.61 927.30L340.01 929.70" stroke="#222" stroke-width="0.75" fill="none"/>
<text x="320.7" y="945.9" text-anchor="middle" font-size="13.5" letter-spacing="0.4">Stom.</text>
<path d="M359.00 920.01V914.23M356.70 914.53H361.30" stroke="#000" stroke-width="1.45" fill="none"/>
<rect x="355.87" y="920.69" width="6.25" height="9.61" fill="#fff" stroke="#000" stroke-width="1.35"/>
<path d="M368.68 918.46V913.10M366.38 913.40H370.98" stroke="#000" stroke-width="1.45" fill="none"/>
<rect x="365.55" y="919.14" width="6.25" height="11.16" fill="#7d7d7d" stroke="#000" stroke-width="1.35"/>
<path d="M378.36 927.20V926.92M376.06 927.22H380.66" stroke="#000" stroke-width="1.45" fill="none"/>
<rect x="375.23" y="927.87" width="6.25" height="2.43" fill="#0a0a0a" stroke="#000" stroke-width="1.35"/>
<path d="M388.04 925.09V923.11M385.74 923.41H390.34" stroke="#000" stroke-width="1.45" fill="none"/>
<rect x="384.91" y="925.76" width="6.25" height="4.54" fill="#fff" stroke="#000" stroke-width="1.35"/>
<path d="M385.59 928.85H390.49" stroke="#333" stroke-width="0.85" fill="none"/>
<path d="M397.72 923.82V920.72M395.42 921.02H400.02" stroke="#000" stroke-width="1.45" fill="none"/>
<rect x="394.59" y="924.49" width="6.25" height="5.81" fill="#fff" stroke="#000" stroke-width="1.35"/>
<path d="M399.14 925.17L400.17 926.20M396.14 925.17L400.17 929.20M395.27 927.30L397.67 929.70" stroke="#222" stroke-width="0.75" fill="none"/>
<text x="378.4" y="945.9" text-anchor="middle" font-size="13.5" letter-spacing="0.4">Kidney</text>
<path d="M416.66 826.42V771.17M414.36 771.47H418.96" stroke="#000" stroke-width="1.45" fill="none"/>
<rect x="413.54" y="827.10" width="6.25" height="103.20" fill="#fff" stroke="#000" stroke-width="1.35"/>
<path d="M426.34 782.03V729.45M424.04 729.75H428.64" stroke="#000" stroke-width="1.45" fill="none"/>
<rect x="423.22" y="782.70" width="6.25" height="147.60" fill="#7d7d7d" stroke="#000" stroke-width="1.35"/>
<path d="M436.02 882.52V879.70M433.72 880.00H438.32" stroke="#000" stroke-width="1.45" fill="none"/>
<rect x="432.90" y="883.19" width="6.25" height="47.11" fill="#0a0a0a" stroke="#000" stroke-width="1.35"/>
<path d="M445.70 849.68V826.00M443.40 826.30H448.00" stroke="#000" stroke-width="1.45" fill="none"/>
<rect x="442.58" y="850.35" width="6.25" height="79.95" fill="#fff" stroke="#000" stroke-width="1.35"/>
<path d="M443.25 928.85H448.15M443.25 926.05H448.15M443.25 923.25H448.15M443.25 920.45H448.15M443.25 917.65H448.15M443.25 914.85H448.15M443.25 912.05H448.15M443.25 909.25H448.15M443.25 906.45H448.15M443.25 903.65H448.15M443.25 900.85H448.15M443.25 898.05H448.15M443.25 895.25H448.15M443.25 892.45H448.15M443.25 889.65H448.15M443.25 886.85H448.15M443.25 884.05H448.15M443.25 881.25H448.15M443.25 878.45H448.15M443.25 875.65H448.15M443.25 872.85H448.15M443.25 870.05H448.15M443.25 867.25H448.15M443.25 864.45H448.15M443.25 861.65H448.15M443.25 858.85H448.15M443.25 856.05H448.15M443.25 853.25H448.15" stroke="#333" stroke-width="0.85" fill="none"/>
<path d="M455.38 852.50V814.44M453.08 814.74H457.68" stroke="#000" stroke-width="1.45" fill="none"/>
<rect x="452.26" y="853.17" width="6.25" height="77.13" fill="#fff" stroke="#000" stroke-width="1.35"/>
<path d="M457.48 853.85L457.83 854.20M454.48 853.85L457.83 857.20M452.93 855.30L457.83 860.20M452.93 858.30L457.83 863.20M452.93 861.30L457.83 866.20M452.93 864.30L457.83 869.20M452.93 867.30L457.83 872.20M452.93 870.30L457.83 875.20M452.93 873.30L457.83 878.20M452.93 876.30L457.83 881.20M452.93 879.30L457.83 884.20M452.93 882.30L457.83 887.20M452.93 885.30L457.83 890.20M452.93 888.30L457.83 893.20M452.93 891.30L457.83 896.20M452.93 894.30L457.83 899.20M452.93 897.30L457.83 902.20M452.93 900.30L457.83 905.20M452.93 903.30L457.83 908.20M452.93 906.30L457.83 911.20M452.93 909.30L457.83 914.20M452.93 912.30L457.83 917.20M452.93 915.30L457.83 920.20M452.93 918.30L457.83 923.20M452.93 921.30L457.83 926.20M452.93 924.30L457.83 929.20M452.93 927.30L455.33 929.70" stroke="#222" stroke-width="0.75" fill="none"/>
<text x="436.0" y="945.9" text-anchor="middle" font-size="13.5" letter-spacing="0.4">Sm. Int.</text>
<path d="M474.32 866.73V831.64M472.02 831.94H476.62" stroke="#000" stroke-width="1.45" fill="none"/>
<rect x="471.19" y="867.41" width="6.25" height="62.89" fill="#fff" stroke="#000" stroke-width="1.35"/>
<path d="M484.00 826.42V787.38M481.70 787.68H486.30" stroke="#000" stroke-width="1.45" fill="none"/>
<rect x="480.88" y="827.10" width="6.25" height="103.20" fill="#7d7d7d" stroke="#000" stroke-width="1.35"/>
<path d="M493.68 911.98V908.59M491.38 908.89H495.98" stroke="#000" stroke-width="1.45" fill="none"/>
<rect x="490.56" y="912.65" width="6.25" height="17.65" fill="#0a0a0a" stroke="#000" stroke-width="1.35"/>
<path d="M503.36 898.59V887.03M501.06 887.33H505.66" stroke="#000" stroke-width="1.45" fill="none"/>
<rect x="500.24" y="899.26" width="6.25" height="31.04" fill="#fff" stroke="#000" stroke-width="1.35"/>
<path d="M500.91 928.85H505.81M500.91 926.05H505.81M500.91 923.25H505.81M500.91 920.45H505.81M500.91 917.65H505.81M500.91 914.85H505.81M500.91 912.05H505.81M500.91 909.25H505.81M500.91 906.45H505.81M500.91 903.65H505.81M500.91 900.85H505.81" stroke="#333" stroke-width="0.85" fill="none"/>
<path d="M513.04 889.85V867.44M510.74 867.74H515.34" stroke="#000" stroke-width="1.45" fill="none"/>
<rect x="509.92" y="890.52" width="6.25" height="39.78" fill="#fff" stroke="#000" stroke-width="1.35"/>
<path d="M513.49 891.20L515.49 893.20M510.59 891.30L515.49 896.20M510.59 894.30L515.49 899.20M510.59 897.30L515.49 902.20M510.59 900.30L515.49 905.20M510.59 903.30L515.49 908.20M510.59 906.30L515.49 911.20M510.59 909.30L515.49 914.20M510.59 912.30L515.49 917.20M510.59 915.30L515.49 920.20M510.59 918.30L515.49 923.20M510.59 921.30L515.49 926.20M510.59 924.30L515.49 929.20M510.59 927.30L512.99 929.70" stroke="#222" stroke-width="0.75" fill="none"/>
<text x="493.7" y="945.9" text-anchor="middle" font-size="13.5" letter-spacing="0.4">Colon</text>
<path d="M59.90 676.60H519.30" stroke="#000" stroke-width="1.1" fill="none"/>
<path d="M64.20 676.60V930.30" stroke="#000" stroke-width="1.2" fill="none"/>
<path d="M59.90 930.30H520.00" stroke="#000" stroke-width="1.3" fill="none"/>
<path d="M519.30 676.60V930.30" stroke="#000" stroke-width="1.6" fill="none"/>
<rect x="70.32" y="682.52" width="21.4" height="8.85" rx="0.5" fill="#fff" stroke="#000" stroke-width="1.45"/>
<text x="96.1" y="691.2" font-size="13.4" textLength="52.5" lengthAdjust="spacing">1F5/SA</text>
<rect x="70.32" y="701.02" width="21.4" height="8.85" rx="0.5" fill="#7d7d7d" stroke="#000" stroke-width="1.45"/>
<text x="96.1" y="709.7" font-size="13.4" textLength="70.3" lengthAdjust="spacing">Lym-1/SA</text>
<rect x="70.32" y="718.92" width="21.4" height="8.85" rx="0.5" fill="#0a0a0a" stroke="#000" stroke-width="1.45"/>
<text x="96.1" y="727.6" font-size="13.4" textLength="67.6" lengthAdjust="spacing">HD39/SA</text>
<rect x="70.32" y="737.62" width="21.4" height="8.85" rx="0.5" fill="#fff" stroke="#000" stroke-width="1.45"/>
<path d="M71.05 743.50H91.00M71.05 740.70H91.00" stroke="#777" stroke-width="0.85" fill="none"/>
<text x="96.1" y="746.3" font-size="13.4" textLength="142.7" lengthAdjust="spacing">0.47 nmol/conjugate</text>
<rect x="70.32" y="756.92" width="21.4" height="8.85" rx="0.5" fill="#fff" stroke="#000" stroke-width="1.45"/>
<path d="M88.45 757.65L91.00 760.20M85.45 757.65L91.00 763.20M82.45 757.65L89.85 765.05M79.45 757.65L86.85 765.05M76.45 757.65L83.85 765.05M73.45 757.65L80.85 765.05M71.05 758.25L77.85 765.05M71.05 761.25L74.85 765.05M71.05 764.25L71.85 765.05" stroke="#222" stroke-width="0.7" fill="none"/>
<text x="96.1" y="765.6" font-size="13.4" textLength="134.0" lengthAdjust="spacing">1.4 nmol/conjugate</text>
<text x="429.7" y="702.8" font-size="17" textLength="47.5" lengthAdjust="spacingAndGlyphs">FL-18</text>
</g>
</svg>
</body></html>
